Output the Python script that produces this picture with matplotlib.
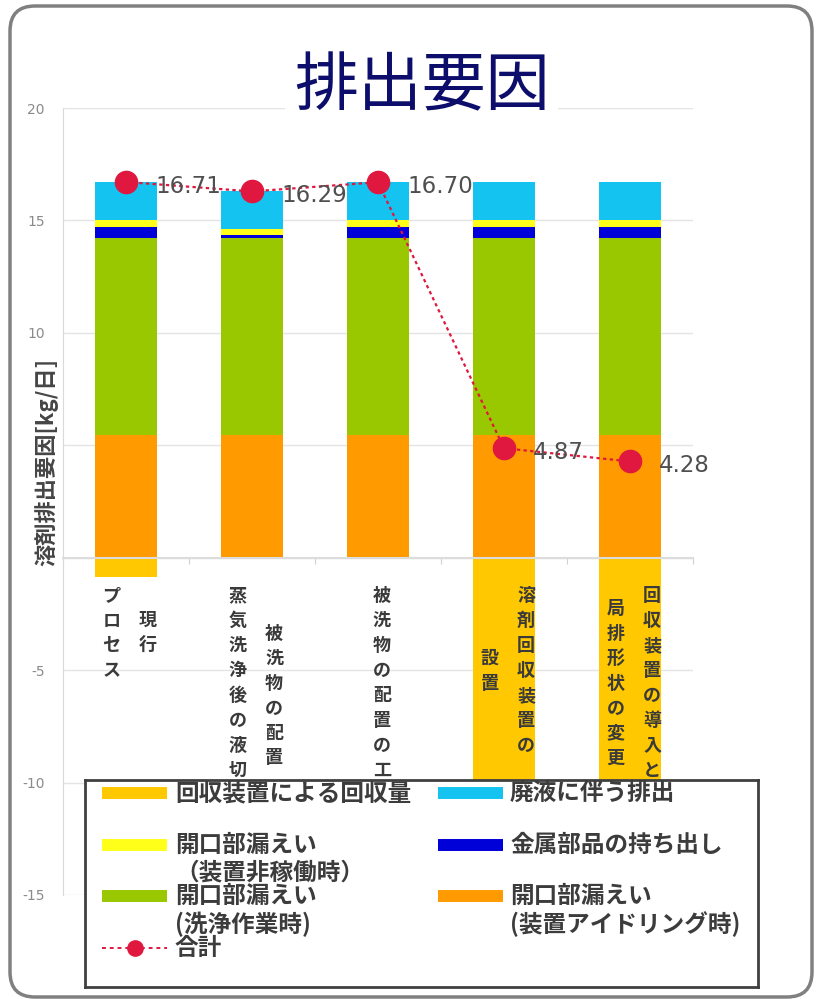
import matplotlib
matplotlib.use('Agg')
import matplotlib.pyplot as plt
from matplotlib.patches import FancyBboxPatch

plt.rcParams['font.family'] = ['Noto Sans CJK JP', 'DejaVu Sans']
plt.rcParams['axes.unicode_minus'] = False

# ケース名 (縦書き、右の列から順に)
cases = [
    ['現行', 'プロセス'],
    ['被洗物の配置', '蒸気洗浄後の液切り'],
    ['被洗物の配置の工夫'],
    ['溶剤回収装置の', '設置'],
    ['回収装置の導入と', '局排形状の変更'],
]

# 溶剤排出要因 [kg/日]
idle = [5.47, 5.47, 5.47, 5.47, 5.47]         # 開口部漏えい(装置アイドリング時)
washing = [8.75, 8.75, 8.75, 8.75, 8.75]      # 開口部漏えい(洗浄作業時)
metal = [0.47, 0.12, 0.47, 0.47, 0.47]        # 金属部品の持ち出し
standby = [0.33, 0.28, 0.33, 0.33, 0.33]      # 開口部漏えい(装置非稼働時)
waste = [1.69, 1.67, 1.68, 1.68, 1.68]        # 廃液に伴う排出
recovered = [-0.85, 0, 0, -11.83, -12.42]     # 回収装置による回収量
total = [16.71, 16.29, 16.70, 4.87, 4.28]     # 合計

# 目盛 (0 と 5 は軸ラベルの下に隠れる)
yticks = [-15, -10, -5, 0, 5, 10, 15, 20]
ytick_labels = ['-15', '-10', '-5', '', '', '10', '15', '20']

C_AMBER = '#ffc800'
C_CYAN = '#14c3f0'
C_YELLOW = '#ffff1a'
C_BLUE = '#0000d8'
C_GREEN = '#99c800'
C_ORANGE = '#ff9a00'
C_RED = '#e0173f'

fig = plt.figure(figsize=(8.17, 9.99), dpi=100)
ax = fig.add_axes([63 / 817, 1 - 895 / 999, 630 / 817, 787 / 999])

x = list(range(len(cases)))
w = 0.49

# 積み上げ棒
bottom = [0.0] * len(x)
for vals, col in [(idle, C_ORANGE), (washing, C_GREEN), (metal, C_BLUE),
                  (standby, C_YELLOW), (waste, C_CYAN)]:
    ax.bar(x, vals, w, bottom=bottom, color=col, zorder=1)
    bottom = [b + v for b, v in zip(bottom, vals)]
ax.bar(x, recovered, w, color=C_AMBER, zorder=1)

# 合計
ax.plot(x, total, color=C_RED, lw=1.6, ls=(0, (1.5, 1.5)), zorder=4)
ax.plot(x, total, 'o', color=C_RED, ms=16, zorder=5)
for xi, v in zip(x, total):
    ax.annotate(f'{v:.2f}', (xi, v), xytext=(21, -3), textcoords='offset points',
                ha='left', va='center', fontsize=16.5, color='#4f4f4f',
                family='DejaVu Sans', zorder=6)

# 縦書きのケース名
pitch = 1.11
top = -1.69
col_gap = 0.29
for i, cols in enumerate(cases):
    n = len(cols)
    longest = max(len(c) for c in cols)
    for j, col in enumerate(cols):
        cx = i + 0.03 + (n - 1) / 2 * col_gap - j * col_gap
        y0 = top - (longest - len(col)) / 2 * pitch
        for k, ch in enumerate(col):
            ax.text(cx, y0 - k * pitch, ch, ha='center', va='center',
                    fontsize=13, fontweight='bold', color='#3a3a3a', zorder=3)

ax.set_xlim(-0.5, 4.5)
ax.set_ylim(-15, 20)
ax.set_yticks(yticks)
ax.set_yticklabels(ytick_labels)
ax.set_xticks([i - 0.5 for i in range(len(cases) + 1)])
ax.set_xticklabels([])
ax.tick_params(axis='y', length=0, pad=13, labelsize=10, labelcolor='#8a8a8a')
ax.tick_params(axis='x', length=4, color='#d0d0d0', direction='out')
for lab in ax.get_yticklabels():
    lab.set_family('DejaVu Sans')
ax.set_axisbelow(True)
ax.yaxis.grid(True, color='#e4e4e4', lw=1)
ax.spines['top'].set_visible(False)
ax.spines['right'].set_visible(False)
ax.spines['left'].set_color('#dadada')
ax.spines['bottom'].set_position(('data', 0))
ax.spines['bottom'].set_color('#dcdcdc')
ax.spines['bottom'].set_linewidth(1.5)

fig.text(47 / 817, 1 - 462 / 999, '溶剤排出要因[kg/日]', rotation=90,
         ha='center', va='center', fontsize=16, fontweight='bold', color='#454545')

fig.text(421.5 / 817, 1 - 87 / 999, '排出要因', ha='center', va='center',
         fontsize=46, color='#0d0d6b',
         bbox=dict(facecolor='white', edgecolor='none', pad=6))

# 凡例 (枠内をピクセル単位で配置)
lax = fig.add_axes([85 / 817, 1 - 987 / 999, 673 / 817, 207 / 999])
lax.set_zorder(5)
lax.set_xlim(0, 673)
lax.set_ylim(207, 0)
lax.set_xticks([])
lax.set_yticks([])
for s in lax.spines.values():
    s.set_color('#404040')
    s.set_linewidth(2)

legend_items = [
    ('回収装置による回収量', C_AMBER, 0, 0),
    ('開口部漏えい\n（装置非稼働時）', C_YELLOW, 0, 1),
    ('開口部漏えい\n(洗浄作業時)', C_GREEN, 0, 2),
    ('廃液に伴う排出', C_CYAN, 1, 0),
    ('金属部品の持ち出し', C_BLUE, 1, 1),
    ('開口部漏えい\n(装置アイドリング時)', C_ORANGE, 1, 2),
]
hx = [(17, 82), (353, 418)]
tx = [90, 425]
row_y = [13, 64.5, 116, 168]
for label, col, c, r in legend_items:
    y = row_y[r]
    lax.plot(hx[c], [y, y], color=col, lw=8.6, solid_capstyle='butt')
    for k, line in enumerate(label.split('\n')):
        lax.text(tx[c], y + k * 28, line, ha='left', va='center', fontsize=17,
                 fontweight='bold', color='#3c3c3c')

y = row_y[3]
lax.plot(hx[0], [y, y], color=C_RED, lw=1.4, ls=(0, (2, 2)))
lax.plot([sum(hx[0]) / 2], [y], 'o', color=C_RED, ms=11)
lax.text(tx[0], y, '合計', ha='left', va='center', fontsize=17,
         fontweight='bold', color='#3c3c3c')

# 外枠
frame = FancyBboxPatch((0.10, 0.02), 8.02, 9.91,
                       boxstyle='round,pad=0,rounding_size=0.25',
                       transform=fig.dpi_scale_trans, fill=False,
                       ec='#808080', lw=2.5)
fig.add_artist(frame)

fig.savefig('out.png', dpi=100)
